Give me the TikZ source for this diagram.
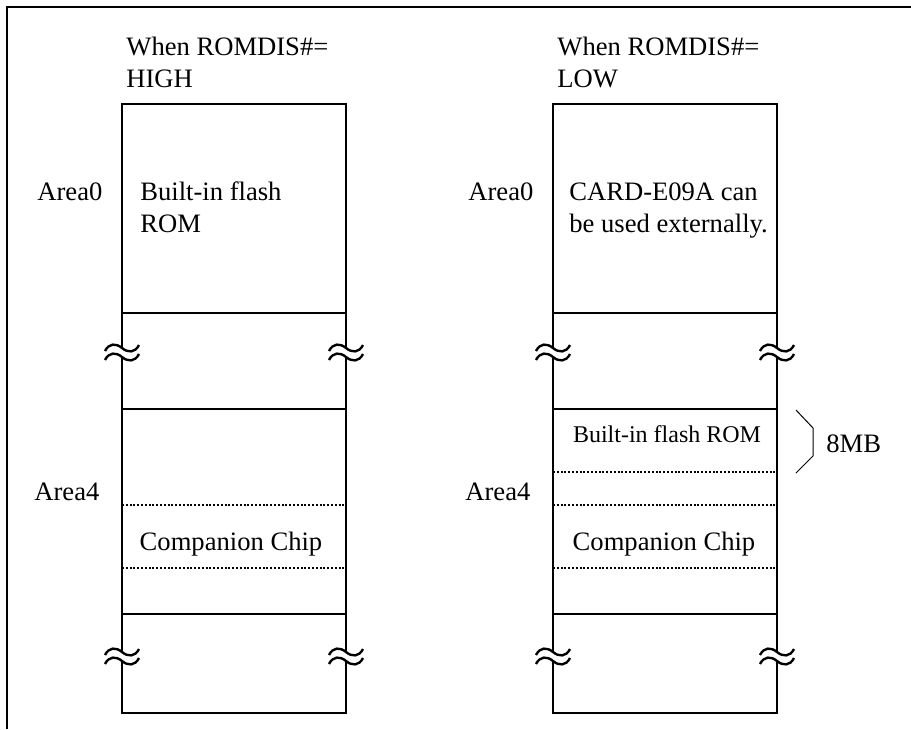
\documentclass[tikz,border=0pt]{standalone}
\usepackage{fontspec}
\setmainfont{Liberation Serif}
\usepackage{tikz}
\usetikzlibrary{positioning,calc}

%% wavy break mark on a vertical line: two stacked tildes
\newcommand{\brkmark}[2]{%
  \draw[brkln, shift={(#1,#2)}]
    (-17,3) .. controls (-13,-5) and (-6,-5) .. (0,0) .. controls (6,5) and (13,5) .. (17,-3);
  \draw[brkln, shift={(#1,#2+9)}]
    (-17,3) .. controls (-13,-5) and (-6,-5) .. (0,0) .. controls (6,5) and (13,5) .. (17,-3);
}

\begin{document}
\begin{tikzpicture}[
    x=0.5pt, y=-0.5pt,
    frameln/.style = {line width=1.4pt},
    boxln/.style   = {line width=1.2pt},
    dotln/.style   = {line width=1.2pt, dash pattern=on 1pt off 0.9pt},
    brkln/.style   = {line width=1.2pt},
    braceln/.style = {line width=0.5pt},
    hdr/.style     = {font=\fontsize{13.3}{16}\selectfont, anchor=base west, align=left, inner sep=0pt},
    arealbl/.style = {font=\fontsize{13.3}{16}\selectfont, anchor=base west, inner sep=0pt},
    inlbl/.style   = {font=\fontsize{13.3}{16}\selectfont, anchor=base, inner sep=0pt},
    smlbl/.style   = {font=\fontsize{12}{14}\selectfont, anchor=base, inner sep=0pt}
  ]
  \useasboundingbox (0,0) rectangle (911,729);

  %% outer frame (only top and left edges show)
  \draw[frameln] (7,729) -- (7,7) -- (911,7);

  %% left map: ROMDIS# = HIGH
  \draw[boxln] (122,348) -- (122,104) -- (346,104) -- (346,348);
  \draw[boxln] (122,357) -- (122,652);
  \draw[boxln] (346,357) -- (346,652);
  \draw[boxln] (122,661) -- (122,713) -- (346,713) -- (346,661);
  \foreach \y in {313,409,614}{\draw[boxln] (122,\y) -- (346,\y);}
  \foreach \y in {505,568}{\draw[dotln] (122,\y) -- (346,\y);}
  \brkmark{122}{348}
  \brkmark{346}{348}
  \brkmark{122}{652}
  \brkmark{346}{652}

  \node[hdr] (hdrH) at (126,87) {When ROMDIS\#=\\HIGH};
  \node[arealbl] (a0H) at (37,200) {Area0};
  \node[hdr] (romH) at (140,232) {Built-in flash\\ROM};
  \node[arealbl] (a4H) at (34,500) {Area4};
  \node[inlbl] (ccH) at (231,550) {Companion Chip};

  %% right map: ROMDIS# = LOW
  \draw[boxln] (553,348) -- (553,104) -- (777,104) -- (777,348);
  \draw[boxln] (553,357) -- (553,652);
  \draw[boxln] (777,357) -- (777,652);
  \draw[boxln] (553,661) -- (553,713) -- (777,713) -- (777,661);
  \foreach \y in {313,409,614}{\draw[boxln] (553,\y) -- (777,\y);}
  \foreach \y in {472,505,568}{\draw[dotln] (553,\y) -- (777,\y);}
  \brkmark{553}{348}
  \brkmark{777}{348}
  \brkmark{553}{652}
  \brkmark{777}{652}

  \node[hdr] (hdrL) at (557,87) {When ROMDIS\#=\\LOW};
  \node[arealbl] (a0L) at (468,200) {Area0};
  \node[hdr] (cardL) at (569,232) {CARD-E09A can\\be used externally.};
  \node[arealbl] (a4L) at (465,500) {Area4};
  \node[smlbl] (romL) at (667,442) {Built-in flash ROM};
  \node[inlbl] (ccL) at (664,550) {Companion Chip};

  %% size bracket
  \draw[braceln] (796,410) -- (813,428) -- (813,456) -- (796,473);
  \node[arealbl] (sz) at (826,452) {8MB};
\end{tikzpicture}
\end{document}
